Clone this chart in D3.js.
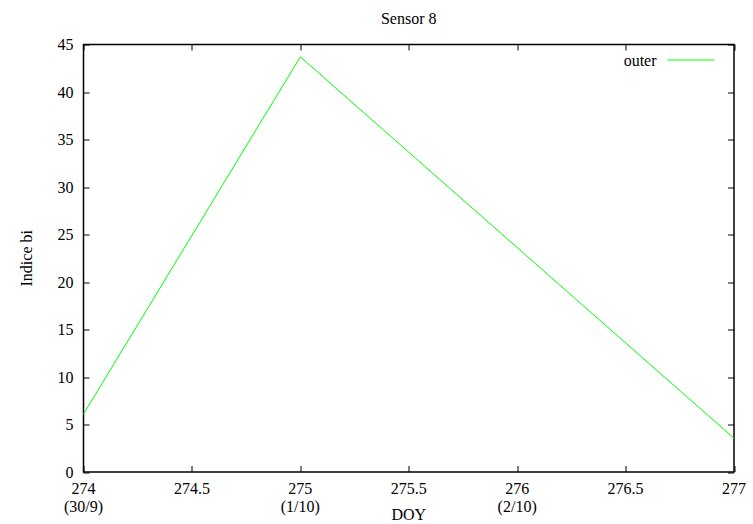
<!DOCTYPE html>
<html>
<head>
  <meta charset="utf-8">
  <title>Sensor 8</title>
  <script src="https://d3js.org/d3.v7.min.js"></script>
  <style>
    body { margin: 0; background: #fff; }
  </style>
</head>
<body>

  <svg width="753" height="524" font-family="'Liberation Serif', 'Times New Roman', serif" font-size="16"></svg>

  <script>

    // Data
    const doy = [274, 275, 277];
    const outer = [6.1, 43.7, 3.55];
    const xTicks = [274, 274.5, 275, 275.5, 276, 276.5, 277];
    const xDates = { 274: "(30/9)", 275: "(1/10)", 276: "(2/10)" };
    const yTicks = [0, 5, 10, 15, 20, 25, 30, 35, 40, 45];

    const width = 753;
    const height = 524;
    const margin = { top: 44.5, right: 19, bottom: 52, left: 83.5 };
    const chartWidth = width - margin.left - margin.right;
    const chartHeight = height - margin.top - margin.bottom;

    const svg = d3.select("svg");

    const chart = svg.append("g")
      .attr("transform", `translate(${margin.left},${margin.top})`);

    const xScale = d3.scaleLinear().domain([274, 277]).range([0, chartWidth]);
    const yScale = d3.scaleLinear().domain([0, 45]).range([chartHeight, 0]);

    // ticks (inward, mirrored on top/right)
    const tickLen = 6;
    const ticks = chart.append("g").attr("stroke", "#000").attr("stroke-width", 1);
    xTicks.forEach(t => {
      const x = Math.round(xScale(t)) + 0.5;
      ticks.append("line").attr("x1", x).attr("x2", x).attr("y1", chartHeight).attr("y2", chartHeight - tickLen);
      ticks.append("line").attr("x1", x).attr("x2", x).attr("y1", 0).attr("y2", tickLen);
    });
    yTicks.forEach(t => {
      const y = Math.round(yScale(t)) + 0.5;
      ticks.append("line").attr("x1", 0).attr("x2", tickLen).attr("y1", y).attr("y2", y);
      ticks.append("line").attr("x1", chartWidth).attr("x2", chartWidth - tickLen).attr("y1", y).attr("y2", y);
    });

    // tick labels
    xTicks.forEach(t => {
      chart.append("text")
        .attr("x", xScale(t))
        .attr("y", chartHeight + 22)
        .attr("text-anchor", "middle")
        .text(t);
      if (xDates[t]) {
        chart.append("text")
          .attr("x", xScale(t))
          .attr("y", chartHeight + 40)
          .attr("text-anchor", "middle")
          .text(xDates[t]);
      }
    });
    yTicks.forEach(t => {
      chart.append("text")
        .attr("x", -10)
        .attr("y", yScale(t))
        .attr("dy", "0.35em")
        .attr("text-anchor", "end")
        .text(t);
    });

    // border
    chart.append("rect")
      .attr("x", 0).attr("y", 0)
      .attr("width", chartWidth).attr("height", chartHeight)
      .attr("fill", "none").attr("stroke", "#000").attr("stroke-width", 1.5);

    // data line
    const line = d3.line()
      .x((d, i) => xScale(doy[i]))
      .y(d => yScale(d));

    chart.append("path")
      .datum(outer)
      .attr("fill", "none")
      .attr("stroke", "#00ff00")
      .attr("stroke-width", 1)
      .attr("d", line);

    // legend
    chart.append("text")
      .attr("x", 573)
      .attr("y", 16)
      .attr("dy", "0.35em")
      .attr("text-anchor", "end")
      .text("outer");
    chart.append("line")
      .attr("x1", 584).attr("x2", 631)
      .attr("y1", 15.5).attr("y2", 15.5)
      .attr("stroke", "#00ff00").attr("stroke-width", 1);

    // titles
    svg.append("text")
      .attr("x", margin.left + chartWidth / 2)
      .attr("y", 24)
      .attr("text-anchor", "middle")
      .text("Sensor 8");

    svg.append("text")
      .attr("x", margin.left + chartWidth / 2)
      .attr("y", 520)
      .attr("text-anchor", "middle")
      .text("DOY");

    svg.append("text")
      .attr("transform", `translate(32,${margin.top + chartHeight / 2}) rotate(-90)`)
      .attr("text-anchor", "middle")
      .text("Indice bi");

  </script>

</body>
</html>
